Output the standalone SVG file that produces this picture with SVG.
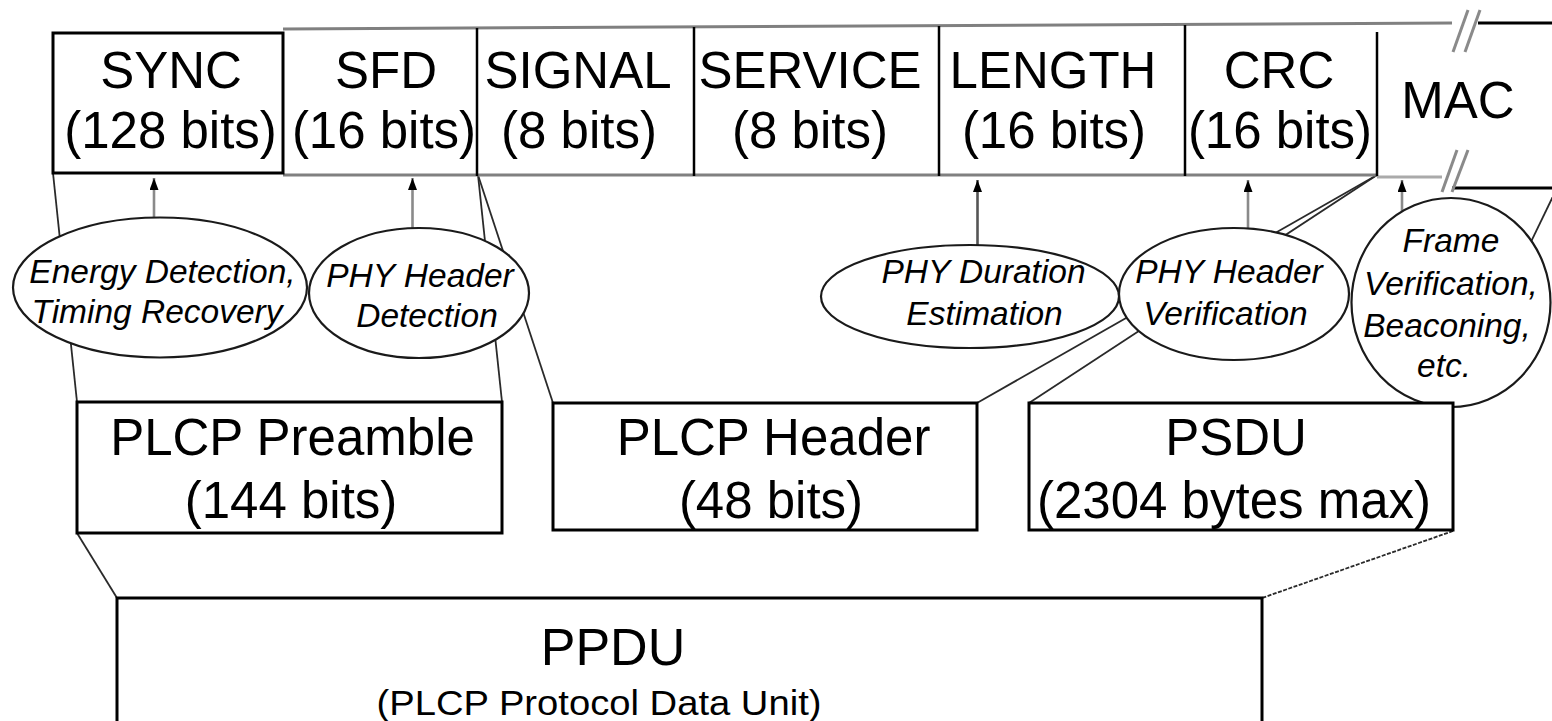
<svg xmlns="http://www.w3.org/2000/svg" width="1552" height="721" viewBox="0 0 1552 721">
<style>
.t{font-family:"Liberation Sans",Arial,sans-serif;font-size:51px;fill:#000;text-anchor:middle}
.i{font-family:"Liberation Sans",Arial,sans-serif;font-size:33.5px;font-style:italic;fill:#000;text-anchor:middle}
.box{fill:#fff;stroke:#000;stroke-width:3}
.div{stroke:#000;stroke-width:2.5;fill:none}
.gl{stroke:#808080;stroke-width:3;fill:none}
.ell{fill:#fff;stroke:#1a1a1a;stroke-width:2.2}
.con{stroke:#2a2a2a;stroke-width:1.8;fill:none}
.arr{stroke:#8a8a8a;stroke-width:2.6;fill:none;marker-end:url(#ah)}
.brk{stroke:#8a8a8a;stroke-width:3;fill:none}
</style>
<defs>
<marker id="ah" viewBox="0 0 12 9" refX="12" refY="4.5" markerUnits="userSpaceOnUse" markerWidth="12" markerHeight="9" orient="auto">
<path d="M0,0 L12,4.5 L0,9 z" fill="#000"/>
</marker>
</defs>
<rect width="1552" height="721" fill="#fff"/>

<g id="connectors">
<line class="con" x1="53" y1="173" x2="77" y2="402"/>
<line class="con" x1="478" y1="175" x2="502" y2="402"/>
<line class="con" x1="478" y1="175" x2="553" y2="403"/>
<line class="con" x1="1377" y1="175" x2="977" y2="403"/>
<line class="con" x1="1377" y1="175" x2="1029" y2="403"/>
<line class="con" x1="1557" y1="188" x2="1453" y2="403"/>
<line class="con" x1="77" y1="533" x2="117" y2="598"/>
<line class="con" x1="1453" y1="531" x2="1262" y2="598" stroke-dasharray="4 1.5"/>
<line class="arr" x1="154" y1="217" x2="154" y2="178"/>
<line class="arr" x1="412.5" y1="228" x2="412.5" y2="178"/>
<line class="arr" x1="977.5" y1="245" x2="977.5" y2="180" style="stroke:#555"/>
<line class="arr" x1="1248" y1="228" x2="1248" y2="180"/>
<line class="arr" x1="1402" y1="211" x2="1402" y2="180"/>
</g>

<g id="frame-row">
<polyline class="gl" points="283,29 1452,23"/>
<line class="gl" x1="1478" y1="23" x2="1552" y2="23" style="stroke:#000"/>
<line class="gl" x1="283" y1="175" x2="1377" y2="175"/>
<line class="gl" x1="1377" y1="177" x2="1442" y2="177" style="stroke:#aaa"/>
<line class="gl" x1="1452" y1="188" x2="1552" y2="188" style="stroke:#000"/>
<line class="brk" x1="1453" y1="52" x2="1468" y2="10"/>
<line class="brk" x1="1465" y1="52" x2="1480" y2="10"/>
<line class="brk" x1="1442" y1="192" x2="1457" y2="150"/>
<line class="brk" x1="1452" y1="192" x2="1468" y2="150"/>
</g>

<g id="sync">
<rect class="box" x="53" y="33" width="230" height="140"/>
<text class="t" x="171" y="88">SYNC</text>
<text class="t" x="170.5" y="148">(128 bits)</text>
</g>
<g id="sfd">
<text class="t" x="386" y="88">SFD</text>
<text class="t" x="384" y="148">(16 bits)</text>
</g>
<g id="signal">
<line class="div" x1="477" y1="28" x2="477" y2="176"/>
<text class="t" x="578" y="88">SIGNAL</text>
<text class="t" x="579" y="148">(8 bits)</text>
</g>
<g id="service">
<line class="div" x1="694" y1="27" x2="694" y2="176"/>
<text class="t" x="810" y="88">SERVICE</text>
<text class="t" x="810" y="148">(8 bits)</text>
</g>
<g id="length">
<line class="div" x1="939" y1="26" x2="939" y2="176"/>
<text class="t" x="1053" y="88">LENGTH</text>
<text class="t" x="1054" y="148">(16 bits)</text>
</g>
<g id="crc">
<line class="div" x1="1185" y1="25" x2="1185" y2="176"/>
<text class="t" x="1279" y="88">CRC</text>
<text class="t" x="1280" y="148">(16 bits)</text>
</g>
<g id="mac">
<line class="div" x1="1377" y1="32" x2="1377" y2="176"/>
<text class="t" x="1458" y="118">MAC</text>
</g>

<g id="energy-detection">
<ellipse class="ell" cx="160" cy="287.5" rx="147" ry="70"/>
<text class="i" x="162.5" y="283">Energy Detection,</text>
<text class="i" x="157" y="323">Timing Recovery</text>
</g>
<g id="phy-header-detection">
<ellipse class="ell" cx="419" cy="293" rx="110" ry="65"/>
<text class="i" x="420" y="287">PHY Header</text>
<text class="i" x="427" y="327">Detection</text>
</g>
<g id="phy-duration-estimation">
<ellipse class="ell" cx="970" cy="296.5" rx="149" ry="51.5"/>
<text class="i" x="983.5" y="283">PHY Duration</text>
<text class="i" x="984.5" y="325">Estimation</text>
</g>
<g id="phy-header-verification">
<ellipse class="ell" cx="1234" cy="294" rx="115" ry="66"/>
<text class="i" x="1229" y="283">PHY Header</text>
<text class="i" x="1225.5" y="325">Verification</text>
</g>
<g id="frame-verification">
<ellipse class="ell" cx="1451" cy="302.5" rx="99.5" ry="104.5"/>
<text class="i" x="1451" y="252">Frame</text>
<text class="i" x="1451" y="295">Verification,</text>
<text class="i" x="1447" y="337">Beaconing,</text>
<text class="i" x="1444" y="377">etc.</text>
</g>

<g id="plcp-preamble">
<rect class="box" x="77" y="402" width="425" height="131"/>
<text class="t" x="292.5" y="455">PLCP Preamble</text>
<text class="t" x="291" y="518">(144 bits)</text>
</g>
<g id="plcp-header">
<rect class="box" x="553" y="403" width="424" height="127"/>
<text class="t" x="773.5" y="455">PLCP Header</text>
<text class="t" x="771" y="518">(48 bits)</text>
</g>
<g id="psdu">
<rect class="box" x="1029" y="403" width="424" height="127"/>
<text class="t" x="1236" y="455">PSDU</text>
<text class="t" x="1234" y="518">(2304 bytes max)</text>
</g>
<g id="ppdu">
<rect class="box" x="117" y="598" width="1145" height="140"/>
<text class="t" x="613" y="665" style="font-size:52px">PPDU</text>
<text class="t" x="599" y="715" style="font-size:35px" textLength="445" lengthAdjust="spacingAndGlyphs">(PLCP Protocol Data Unit)</text>
</g>
</svg>
